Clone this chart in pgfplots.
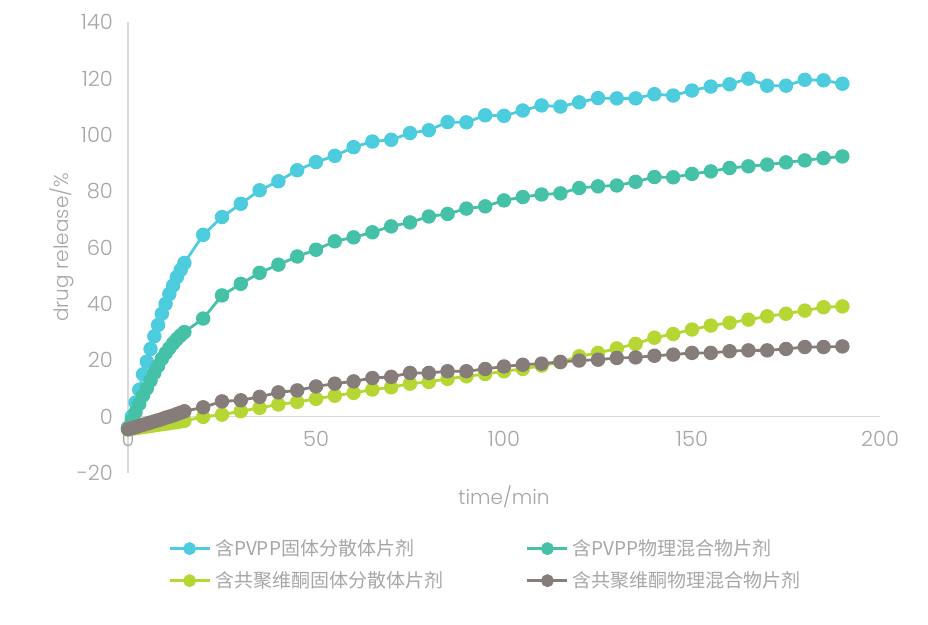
\documentclass[border=0pt]{standalone}
\usepackage{pgfplots}
\usepackage{pgfplotstable}
\pgfplotsset{compat=1.18}
\usepackage{fontspec}
\setmainfont{Poppins Light}
\newfontfamily\cjk{Noto Sans CJK SC}

\definecolor{cCyan}{HTML}{4DCCDE}
\definecolor{cTeal}{HTML}{45C1A8}
\definecolor{cLime}{HTML}{B5D633}
\definecolor{cGrey}{HTML}{867D7B}
\definecolor{txt}{HTML}{A6A6A6}
\definecolor{axl}{HTML}{D9D9D9}

% time/min, release % for the four tablets
\pgfplotstableread{
t   A      B     C     D
0   -4     -4    -4.5  -4.5
1   0      -1.5  -4.3  -4.1
2   5      1.5   -4.1  -3.7
3   9.5    4.5   -3.9  -3.3
4   15     7.5   -3.7  -2.9
5   19.5   10    -3.5  -2.5
6   24     12.8  -3.3  -2.1
7   28.5   15.5  -3.1  -1.7
8   32.5   18    -2.9  -1.3
9   36.5   20.5  -2.7  -0.9
10  40     22.5  -2.5  -0.4
11  43.5   24.3  -2.3  0
12  46.5   26    -2.1  0.4
13  49.5   27.5  -1.9  0.9
14  52     28.8  -1.7  1.4
15  54.5   30    -1.5  1.9
20  64.5   34.8  -0.1  3.3
25  70.8   43    0.7   5.4
30  75.5   47.1  1.9   5.8
35  80.3   51    3.1   7
40  83.5   53.9  4.3   8.6
45  87.4   56.8  5.2   9.3
50  90.3   59.2  6.3   10.7
55  92.5   62.2  7.4   11.7
60  95.6   63.6  8.4   12.5
65  97.6   65.4  9.6   13.7
70  98.2   67.5  10.4  14.1
75  100.6  68.9  11.7  15.5
80  101.6  71    12.3  15.5
85  104.5  71.9  13.4  16.1
90  104.4  73.8  14.3  16.1
95  106.9  74.6  15.1  16.9
100 106.7  76.7  16.1  17.8
105 108.6  77.9  16.9  18.4
110 110.4  78.8  18.1  18.8
115 110    79.2  19.3  19.4
120 111.5  81.1  21.4  19.9
125 113    81.7  22.6  20.2
130 112.9  82    24.2  20.8
135 112.9  83.3  25.8  21
140 114.4  85    28    21.6
145 113.9  84.9  29.3  22
150 115.7  86.1  30.9  22.6
155 117.1  87    32.3  22.6
160 117.9  88.2  33.3  23.2
165 119.9  88.8  34.4  23.5
170 117.4  89.4  35.6  23.5
175 117.4  90.2  36.5  24
180 119.5  90.9  37.6  24.7
185 119.3  91.7  38.8  24.7
190 118.1  92.3  39.1  24.9
}\release

\begin{document}
\begin{tikzpicture}
\useasboundingbox (-64pt,-76pt) rectangle (400pt,236.5pt);
\begin{axis}[
    scale only axis,
    width=376pt, height=225.5pt,
    xmin=0, xmax=200, ymin=-20, ymax=140,
    axis x line=middle, axis y line=left,
    axis line style={draw=axl, line width=0.8pt, -},
    hide obscured x ticks=false,
    major tick length=0pt,
    xtick={0,50,...,200}, ytick={-20,0,...,140},
    yticklabels={{-20},0,20,40,60,80,100,120,140},
    tick label style={font=\fontsize{10.5}{12}\selectfont, text=txt},
    /pgf/number format/assume math mode=true,
    xticklabel style={yshift=-4pt},
    yticklabel style={xshift=-4pt},
    xlabel={time/min},
    ylabel={drug release/\%},
    label style={font=\fontsize{10}{12}\selectfont, text=txt},
    xlabel style={at={(axis description cs:0.5,0)}, anchor=north, yshift=-3pt},
    ylabel style={at={(axis description cs:-0.088,0.5)}, anchor=center},
    clip=false,
    every axis plot/.append style={line width=1.4pt, mark=*, mark size=2.9pt},
    legend columns=2,
    legend cell align=left,
    legend image code/.code={\draw[mark repeat=2,mark phase=2, mark size=2.5pt] plot coordinates {(0pt,0pt) (10pt,0pt) (20pt,0pt)};},
    legend style={at={(axis description cs:0.045,-0.128)}, anchor=north west, draw=none, fill=none,
        font=\cjk\fontsize{9.5}{11}\selectfont, text=txt, row sep=2.5pt,
        /tikz/every even column/.append style={column sep=39.5pt}},
]
\addplot[color=cCyan] table[x=t, y=A] {\release};
\addlegendentry{含PVPP固体分散体片剂}
\addplot[color=cTeal] table[x=t, y=B] {\release};
\addlegendentry{含PVPP物理混合物片剂}
\addplot[color=cLime] table[x=t, y=C] {\release};
\addlegendentry{含共聚维酮固体分散体片剂}
\addplot[color=cGrey] table[x=t, y=D] {\release};
\addlegendentry{含共聚维酮物理混合物片剂}
\end{axis}
\end{tikzpicture}
\end{document}
